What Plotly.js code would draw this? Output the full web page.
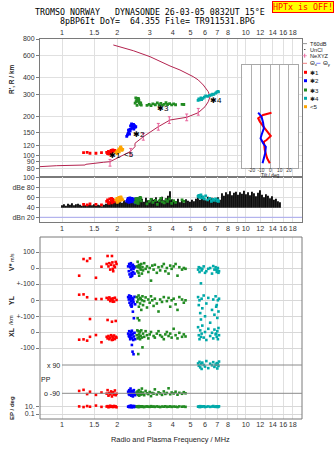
<!DOCTYPE html>
<html><head><meta charset="utf-8">
<script src="https://cdn.plot.ly/plotly-3.0.1.min.js"></script>
<style>html,body{margin:0;padding:0;background:#fff;}#chart{width:335px;height:451px;}</style>
</head><body><div id="chart"></div>
<script>
// ---------- tick values / labels ----------
const freqTicks = [1,1.5,2,3,4,5,6,7,8,10,12,14,16,18];
const freqLabels = ['1','1.5','2','3','4','5','6','7','8','10','12','14','16','18'];
const freqTicksMid = [1,1.5,2,3,4,5,6,7,8,9,10,12,14,16,18];
const freqLabelsMid = ['1','1.5','2','3','4','5','6','7','8','9','10','12','14','16','18'];
const heightTicks = [80,90,100,120,150,200,300,400,600,800];
const heightLabels = ['80','90','100','120','150','200','300','400','600','800'];
const dbTicks = [100,80,60,40,20];
const dbLabels = ['100','dBe 80','60','40','dBn 20'];
const tiltTicks = [-20,-10,0,10,20];
const tiltLabels = ['-20','-10','0','10','20'];

// ---------- profile (true height) ----------
const profF = [0.752,0.936,1.334,1.35,1.678,1.825,2.344,2.495,2.495,2.769,3.342,3.87,4.77,5.515,5.998,6.25,6.386,6.25,5.872,5.515,5.18,4.385,3.87,3.414,3.012,2.443,1.902];
const profH = [82.2,83.7,84.7,85.8,88.9,89.9,107.4,117.4,124.7,140.3,167.7,188.9,198.3,215.2,239.4,261.8,286.2,312.9,352.5,385.5,408.7,460.6,494.8,534,583.9,649.7,719.3];
const nexF = [1.825,2.364,2.769,3.342,3.836,4.77,5.515];
const nexH = [88.3,107.4,140.3,167.7,188.9,198.3,219.1];

// ---------- echoes in the height panel (freq, virtual height, amplitude dB) ----------
const r1F = [1.31,1.37,1.42,1.53,1.64,1.75,1.77,1.79,1.82,1.85,1.87,1.89,1.92,1.94,1.80,1.86,1.90];
const r1H = [105.5,106,104.5,104.5,105.5,106,104,108,106,110,107,111,109,110,103,104,108];
const r1A = [46,45,47,46,45,52,55,50,57,53,49,56,51,54,48,58,52];
const o1F = [1.96,1.99,2.02,2.04,2.06,2.08,2.10,2.12,2.00,2.05,2.09,2.14];
const o1H = [105,108,110,113,112,116,114,110,104,107,117,112];
const o1A = [55,58,52,60,57,54,59,56,50,53,61,55];
const b1F = [2.25,2.27,2.29,2.31,2.33,2.35,2.30,2.34,2.38,2.42,2.46,2.50,2.36,2.40,2.44,2.48,2.52,2.39,2.45,2.43];
const b1H = [141,145,149,152,147,156,158,160,162,164,161,166,170,172,175,171,168,176,174,166];
const b1A = [52,55,58,50,54,57,53,59,51,56,54,49,55,58,52,57,50,53,56,54];
const g1F = [2.50,2.53,2.55,2.58,2.60,2.63,2.66,2.70,2.52,2.57,2.62,2.68,2.56,2.61,2.90,2.98,3.05,3.12,3.22,3.30,3.38,3.45,3.52,3.60,3.68,3.75,3.85,3.95,4.05,4.15,4.50,4.60];
const g1H = [255,262,270,278,265,258,250,246,280,272,268,256,245,276,245,250,244,252,248,256,248,254,246,250,257,249,253,247,252,248,250,249];
const g1A = [50,55,58,52,48,56,60,53,57,51,54,59,49,55,47,52,56,50,54,46,53,58,51,49,55,52,57,48,53,50,55,52];
const c1F = [5.50,5.55,5.60,5.70,5.75,5.85,5.95,6.05,6.20,6.35,6.50,6.60,6.70,6.85,6.95,7.05,7.10];
const c1H = [268,275,270,280,272,278,284,290,288,293,295,300,298,305,310,315,312];
const c1A = [62,64,60,65,59,61,57,63,55,58,52,56,54,57,53,55,52];

// ---------- total amplitude (black) ----------
const ampF = [1.00,1.025,1.051,1.078,1.105,1.133,1.162,1.191,1.222,1.253,
1.284,1.317,1.350,1.385,1.420,1.456,1.493,1.531,1.570,1.609,
1.650,1.692,1.735,1.779,1.824,1.870,1.918,1.966,2.016,2.067,
2.120,2.174,2.229,2.285,2.343,2.403,2.464,2.526,2.590,2.656,
2.723,2.793,2.863,2.936,3.011,3.087,3.165,3.246,3.328,3.412,
3.499,3.588,3.679,3.772,3.868,3.966,4.066,4.170,4.275,4.384,
4.495,4.609,4.726,4.846,4.969,5.095,5.224,5.357,5.493,5.632,
5.775,5.922,6.072,6.226,6.384,6.546,6.712,6.882,7.057,7.236,
7.420,7.608,7.801,7.999,8.202,8.410,8.623,8.842,9.066,9.296,
9.532,9.774,10.02,10.28,10.54,10.80,11.08,11.36,11.65,11.94,
12.25,12.56,12.87,13.20,13.54,13.88,14.23,14.59,14.96,15.34];
const ampDb = [44,46,43,47,45,48,44,46,47,45,
43,46,44,45,47,44,46,43,45,44,
42,45,47,49,51,47,53,50,55,52,
49,54,51,56,52,58,50,55,60,53,
57,51,59,54,52,58,55,60,53,57,
61,54,58,63,72,56,55,52,57,50,
54,49,56,53,51,55,52,57,60,55,
63,58,54,61,56,59,53,57,60,55,
68,63,70,66,72,64,69,71,65,70,
67,73,66,70,64,71,68,62,69,74,
65,60,66,63,58,62,55,57,52,50];

// ---------- lower panel echo parameters ----------
const r3F  = [1.24,1.31,1.37,1.42,1.53,1.64,1.75,1.77,1.79,1.81,1.83,1.85,1.87,1.88,1.90,1.92,1.94,1.96,1.98,1.89];
const r3V  = [-48,56,44,60,-61,8,25,75,10,30,-10,20,75,35,-20,15,5,38,25,-5];
const r3YL = [35,37,19,-117,8,8,15,-123,5,18,-5,10,-134,0,12,-8,16,-129,2,-9];
const r3XL = [-48,-46,-54,-30,-19,-64,-30,-40,-25,-45,-35,-20,-50,-28,-38,-22,-44,-30,-35,-48];
const r3PP = [-75,-68,-95,-80,-100,-85,-92,-70,-105,-88,-96,-78,-110,-90,-84,-98,-72,-102,-93,-87];
const r3EP = [12,8,15,10,20,9,11,14,7,10,18,9,13,10,8,16,11,12,7,10];

const b3F  = [2.29,2.31,2.32,2.33,2.35,2.36,2.37,2.38,2.39,2.40,2.41,2.42,2.43,2.44,2.45,2.46,2.48,2.50,2.34,2.40];
const b3V  = [10,-20,25,-40,5,-55,30,-10,-30,15,-45,0,20,-25,-5,10,-35,5,22,-50];
const b3YL = [20,5,30,-15,10,-30,25,-5,-40,15,-20,0,-71,8,-10,-112,22,-25,12,-35];
const b3XL = [-10,-25,5,-30,-45,-15,0,-35,-20,-81,-40,-123,-10,-50,-139,-28,-5,-45,-20,8];
const b3PP = [-80,-95,-70,-100,-88,-60,-92,-105,-85,-75,-98,-90,-110,-82,-95,-70,-88,-102,-78,-93];
const b3EP = [10,12,8,15,9,11,20,10,7,13,9,12,10,16,8,11,14,9,10,12];

const g3F  = [2.55,2.57,2.58,2.60,2.61,2.62,2.63,2.65,2.66,2.68,2.70,2.72,2.74,2.76,2.80,2.85,2.90,2.95,3.00,3.05,3.10,3.15,3.20,3.28,3.35,3.42,3.50,3.58,3.65,3.72,3.80,3.88,3.95,4.05,4.15,4.25,4.35,4.50,4.60,4.70];
const g3V  = [10,-20,39,5,-30,20,-48,0,15,-10,25,-35,5,-15,30,-5,10,-25,0,-79,15,-10,20,-30,5,-15,10,25,-20,0,-35,15,-5,10,25,-48,5,-10,0,-5];
const g3YL = [20,-10,-112,5,30,-40,-125,15,-20,10,-60,0,25,-30,-5,18,-45,5,-15,25,0,-35,10,-20,-70,5,-10,20,-150,-5,15,-40,0,10,-25,-60,20,5,-15,0];
const g3XL = [-20,10,-40,-138,5,-30,-15,0,-45,-25,10,-35,-96,-10,-30,5,-20,-40,-15,0,-171,-25,-35,-10,5,-20,-30,-45,-15,0,-25,-10,-35,20,-20,-40,-5,-30,-15,-28];
const g3PP = [-85,-95,-78,-100,-90,-70,-105,-88,-92,-80,-98,-60,-93,-86,-102,-75,-90,-95,-82,-108,-88,-92,-65,-97,-84,-90,-100,-78,-94,-88,-58,-96,-85,-91,-80,-99,-87,-93,-83,-90];
const g3EP = [10,12,9,11,8,14,10,9,12,11,10,13,9,10,8,11,12,10,9,14,10,11,9,12,10,8,11,10,13,9,10,12,9,11,10,8,12,10,11,9];

const c3F  = [5.50,5.55,5.60,5.65,5.70,5.75,5.80,5.90,6.00,6.10,6.25,6.40,6.55,6.65,6.75,6.85,6.95,7.00,7.05,7.10,7.15,6.90];
const c3V  = [-10,5,-25,0,-96,-15,-5,10,-30,-20,-5,0,-35,12,-10,5,-25,-15,0,-30,-20,-10];
const c3YL = [20,-30,0,-80,-120,10,-50,30,-100,-20,15,-140,-60,5,-90,25,-30,-110,0,-70,10,-40];
const c3XL = [30,-20,-45,10,-30,-10,40,-35,0,-50,20,-25,-5,-40,15,-15,-30,5,-45,25,-20,-10];
const c3PP = [100,85,110,75,95,65,105,90,80,115,70,98,88,108,78,92,102,68,96,84,112,90];
const c3EP = [10,12,8,14,9,11,10,13,8,10,12,9,11,15,10,9,12,10,8,11,13,10];

// ---------- tilt ----------
const tiltXdeg = [1.3,-7.7,-13,-11.2,-5.9,0.5,-4,-6.9,-5.9,-3.4,-0.5];
const tiltXh   = [215.2,206.5,194.8,183.4,163,142,132.3,128.3,110.7,95.5,87.4];
const tiltYdeg = [-13,-9.4,-7.7,-6.9,-9.4,-10.4,-7.7,-4.8,-5.5,-6.9,-8.3];
const tiltYh   = [215.2,200.4,180,163,144.6,136.4,124.7,117.4,104.4,95.5,87.4];

// ---------- styling ----------
const RED='#ff0000', BLUE='#0000ff', GREEN='#228b22', CYAN='#00a9a9', ORANGE='#ffa500';
const sans='"Liberation Sans", Arial, sans-serif';
const mono='"DejaVu Sans Mono", monospace';
const gridC='#e0e0e0', lineC='#7a7a7a';
const tickFont={family:sans,size:7,color:'#333'};
const X = px => (px-40)/262, Y = py => (419-py)/380;

const traces = [];
traces.push({type:'scatter',mode:'lines',x:profF,y:profH,xaxis:'x',yaxis:'y',line:{color:'#b3234f',width:1}});
traces.push({type:'scatter',mode:'markers',x:nexF,y:nexH,xaxis:'x',yaxis:'y',marker:{size:1,color:'#e8609a'},
  error_y:{type:'percent',value:6,color:'#e8609a',thickness:1,width:1.5}});
const modes1=[[r1F,r1H,r1A,RED],[o1F,o1H,o1A,ORANGE],[b1F,b1H,b1A,BLUE],[g1F,g1H,g1A,GREEN],[c1F,c1H,c1A,CYAN]];
const barX=[], barY=[];
ampF.forEach((f,i)=>{barX.push(f,f,null);barY.push(39,ampDb[i],null);});
traces.push({type:'scatter',mode:'lines',x:barX,y:barY,xaxis:'x2',yaxis:'y2',line:{color:'#000',width:1.8}});
modes1.forEach(m=>{
  traces.push({type:'scatter',mode:'markers',x:m[0],y:m[1],xaxis:'x',yaxis:'y',marker:{symbol:'square',size:2.8,color:m[3]}});
  traces.push({type:'scatter',mode:'markers',x:m[0],y:m[2],xaxis:'x2',yaxis:'y2',marker:{symbol:'square',size:2.8,color:m[3]}});
});
const modes3=[[r3F,r3V,r3YL,r3XL,r3PP,r3EP,RED],[b3F,b3V,b3YL,b3XL,b3PP,b3EP,BLUE],[g3F,g3V,g3YL,g3XL,g3PP,g3EP,GREEN],[c3F,c3V,c3YL,c3XL,c3PP,c3EP,CYAN]];
const subAx=['y7','y6','y5','y4','y3'];
modes3.forEach(m=>{
  for(let k=0;k<5;k++){
    traces.push({type:'scatter',mode:'markers',x:m[0],y:m[k+1],xaxis:'x3',yaxis:subAx[k],cliponaxis:false,
      marker:{symbol:'square',size:2.6,color:m[6]}});
  }
});
traces.push({type:'scatter',mode:'lines',x:tiltXdeg,y:tiltXh,xaxis:'x4',yaxis:'y8',line:{color:RED,width:2}});
traces.push({type:'scatter',mode:'lines',x:tiltYdeg,y:tiltYh,xaxis:'x4',yaxis:'y8',line:{color:BLUE,width:2}});

const xCommon={type:'log',range:[-0.1197,1.3058],tickmode:'array',tickvals:freqTicks,ticktext:freqLabels,tickangle:0,showgrid:true,gridcolor:gridC,
  minor:{tickmode:'array',tickvals:[9],showgrid:true,gridcolor:gridC,ticks:''},
  ticks:'',zeroline:false,tickfont:{family:sans,size:7.2,color:'#333'},linecolor:lineC,linewidth:1,fixedrange:true};
const ySub={ticks:'outside',ticklen:3,tickcolor:lineC,showgrid:true,gridcolor:'#d8d8d8',zeroline:false,showline:false,
  tickfont:tickFont,anchor:'x3',fixedrange:true,tickmode:'array'};

const annotations=[];
function ann(text,px,py,o){annotations.push(Object.assign({text:text,x:X(px),y:Y(py),xref:'paper',yref:'paper',showarrow:false,
  xanchor:'center',yanchor:'middle',font:{family:sans,size:7.2,color:'#222'}},o||{}));}
ann('TROMSO NORWAY\u00a0\u00a0\u00a0DYNASONDE 26-03-05 0832UT 15°E',149.7,12.3,{font:{family:mono,size:8.3,color:'#000'}});
ann('8pBP6It DoY=\u00a0\u00a064.355 File= TR911531.BPG',157,20.7,{font:{family:mono,size:8.3,color:'#000'}});
ann('HPTx is OFF!',302.5,7,{font:{family:mono,size:8.3,color:'#ff0000'},bgcolor:'#ffff00',bordercolor:'#ff0000',borderwidth:1,borderpad:0});
ann("<b>R', R / km</b>",12,79,{textangle:-90,font:{family:sans,size:6.5,color:'#222'}});
ann('<b>V*</b> <span style="font-size:5px">m/s</span>',11,262,{textangle:-90,font:{family:sans,size:7,color:'#222'}});
ann('<b>YL</b>',11,300,{textangle:-90,font:{family:sans,size:7,color:'#222'}});
ann('/km',11,320,{textangle:-90,font:{family:sans,size:6,color:'#222'}});
ann('<b>XL</b>',11,332,{textangle:-90,font:{family:sans,size:7,color:'#222'}});
ann('<b>EP / deg</b>',12,408,{textangle:-90,font:{family:sans,size:6,color:'#222'}});
ann('PP',46,379.5,{font:{family:sans,size:7,color:'#222'}});
ann('x 90',61.5,365,{xanchor:'right',font:{family:sans,size:7,color:'#222'}});
ann('o -90',61.5,393.3,{xanchor:'right',font:{family:sans,size:7,color:'#222'}});
ann('Radio and Plasma Frequency / MHz',170,439,{font:{family:sans,size:7.4,color:'#222'}});
ann('Tilt / deg',270,175.2,{font:{family:sans,size:4.8,color:'#222'}});
[['✱1',1.757,100.4],['&lt;5',2.12,103],['✱2',2.373,147.2],['✱3',3.206,233.9],['✱4',6.19,267.4]].forEach(l=>{
  annotations.push({text:l[0],x:Math.log10(l[1]),y:Math.log10(l[2]),xref:'x',yref:'y',xanchor:'left',yanchor:'middle',showarrow:false,
    font:{family:sans,size:8,color:'#000'}});
});
const legTop={family:sans,size:5.6,color:'#222'};
const legF={family:sans,size:6.2,color:'#222'};
[['T60dB',43.6],['UnCl',49.6],['NeXYZ',55.7]].forEach(l=>ann(l[0],308,l[1],{xanchor:'left',font:legTop}));
[['Θ<sub>x</sub>',62.6],['✱1',72.3],['✱2',80.7],['✱3',90],['✱4',98.3],['&lt;5',106.7]].forEach(l=>{
  ann(l[0],308,l[1],{xanchor:'left',font:legF});
});
ann('Θ<sub>y</sub>',321,62.6,{xanchor:'left',font:legF});

const shapes=[];
function pline(x0,x1,py,color){shapes.push({type:'line',xref:'paper',yref:'paper',x0:X(x0),x1:X(x1),y0:Y(py),y1:Y(py),line:{color:color,width:1}});}
pline(302.5,307,43.6,'#999');
pline(302.5,307,55.7,'#f0a0c0');
shapes.push({type:'line',xref:'paper',yref:'paper',x0:X(304.7),x1:X(304.7),y0:Y(57.7),y1:Y(53.7),line:{color:'#e8609a',width:1}});
shapes.push({type:'rect',xref:'paper',yref:'paper',x0:X(304.3),x1:X(305.3),y0:Y(50.1),y1:Y(49.1),fillcolor:'#000',line:{width:0}});
pline(302.5,307,63.3,'#f08080');
pline(316.3,320.5,63.3,'#8080ff');
[[RED,72.3],[BLUE,80.7],[GREEN,90],[CYAN,98.3],[ORANGE,106.7]].forEach(s=>{
  shapes.push({type:'rect',xref:'paper',yref:'paper',x0:X(304),x1:X(307),y0:Y(s[1]+1.5),y1:Y(s[1]-1.5),fillcolor:s[0],line:{width:0}});
});
shapes.push({type:'rect',xref:'paper',yref:'paper',x0:0,x1:1,y0:0,y1:Y(237),line:{color:lineC,width:1},layer:'above'});
shapes.push({type:'line',xref:'paper',yref:'y4',x0:X(62),x1:1,y0:90,y1:90,line:{color:'#8a8a8a',width:1}});
shapes.push({type:'line',xref:'paper',yref:'y4',x0:X(62),x1:1,y0:-90,y1:-90,line:{color:'#8a8a8a',width:1}});
shapes.push({type:'line',xref:'paper',yref:'y2',x0:0,x1:1,y0:20,y1:20,line:{color:'#a8a8f0',width:1}});

const layout={
  width:335,height:451,margin:{l:40,r:33,t:39,b:32},paper_bgcolor:'#fff',plot_bgcolor:'#fff',
  showlegend:false,hovermode:false,
  xaxis:Object.assign({},xCommon,{side:'top',anchor:'y',showline:true,mirror:true}),
  xaxis2:Object.assign({},xCommon,{tickvals:freqTicksMid,ticktext:freqLabelsMid,minor:undefined,anchor:'y2',showline:true,mirror:true}),
  xaxis3:Object.assign({},xCommon,{anchor:'y3',showline:false}),
  xaxis4:{domain:[X(242.3),X(298.3)],range:[-30,30],anchor:'y8',tickmode:'array',tickvals:tiltTicks,ticktext:tiltLabels,tickangle:0,
    showgrid:true,gridcolor:'#b0b0b0',showline:true,mirror:true,linecolor:'#a8a8a8',ticks:'',zeroline:false,ticklabelstandoff:-2,
    tickfont:{family:sans,size:4.8,color:'#333'},fixedrange:true},
  yaxis:{type:'log',domain:[Y(176.7),1],range:[1.8375,2.9032],tickmode:'array',tickvals:heightTicks,ticktext:heightLabels,
    ticks:'outside',ticklen:3,tickcolor:lineC,showgrid:true,gridcolor:gridC,showline:true,mirror:true,linecolor:lineC,
    zeroline:false,tickfont:tickFont,anchor:'x',fixedrange:true},
  yaxis2:{domain:[Y(221.7),Y(176.7)],range:[11.2,101.2],tickmode:'array',tickvals:dbTicks,ticktext:dbLabels,
    ticks:'outside',ticklen:3,tickcolor:lineC,showgrid:true,gridcolor:gridC,showline:true,mirror:true,linecolor:lineC,
    zeroline:false,tickfont:tickFont,anchor:'x2',fixedrange:true},
  yaxis3:Object.assign({},ySub,{type:'log',domain:[0,Y(400)],range:[-2.37,2.8356],tickvals:[10,0.1],ticktext:['10.','0.1']}),
  yaxis4:Object.assign({},ySub,{domain:[Y(400),Y(356)],range:[-132.65,147.25],showgrid:false,ticks:'',showticklabels:false}),
  yaxis5:Object.assign({},ySub,{domain:[Y(356),Y(324)],range:[-150,50],tickvals:[0,-100],ticktext:['0','-100']}),
  yaxis6:Object.assign({},ySub,{domain:[Y(324),Y(292)],range:[-148.1,51.9],tickvals:[0,-100],ticktext:['0','+-100']}),
  yaxis7:Object.assign({},ySub,{domain:[Y(292),Y(237)],range:[-150,193.75],tickvals:[100,0,-100],ticktext:['100','0','+-100']}),
  yaxis8:{type:'log',domain:[Y(167.7),Y(65)],range:[1.9071,2.702],anchor:'x4',showticklabels:false,ticks:'',showgrid:false,
    showline:true,mirror:true,linecolor:'#a8a8a8',zeroline:false,fixedrange:true},
  annotations:annotations,shapes:shapes
};
Plotly.newPlot('chart',traces,layout,{staticPlot:true,displayModeBar:false});
</script></body></html>
